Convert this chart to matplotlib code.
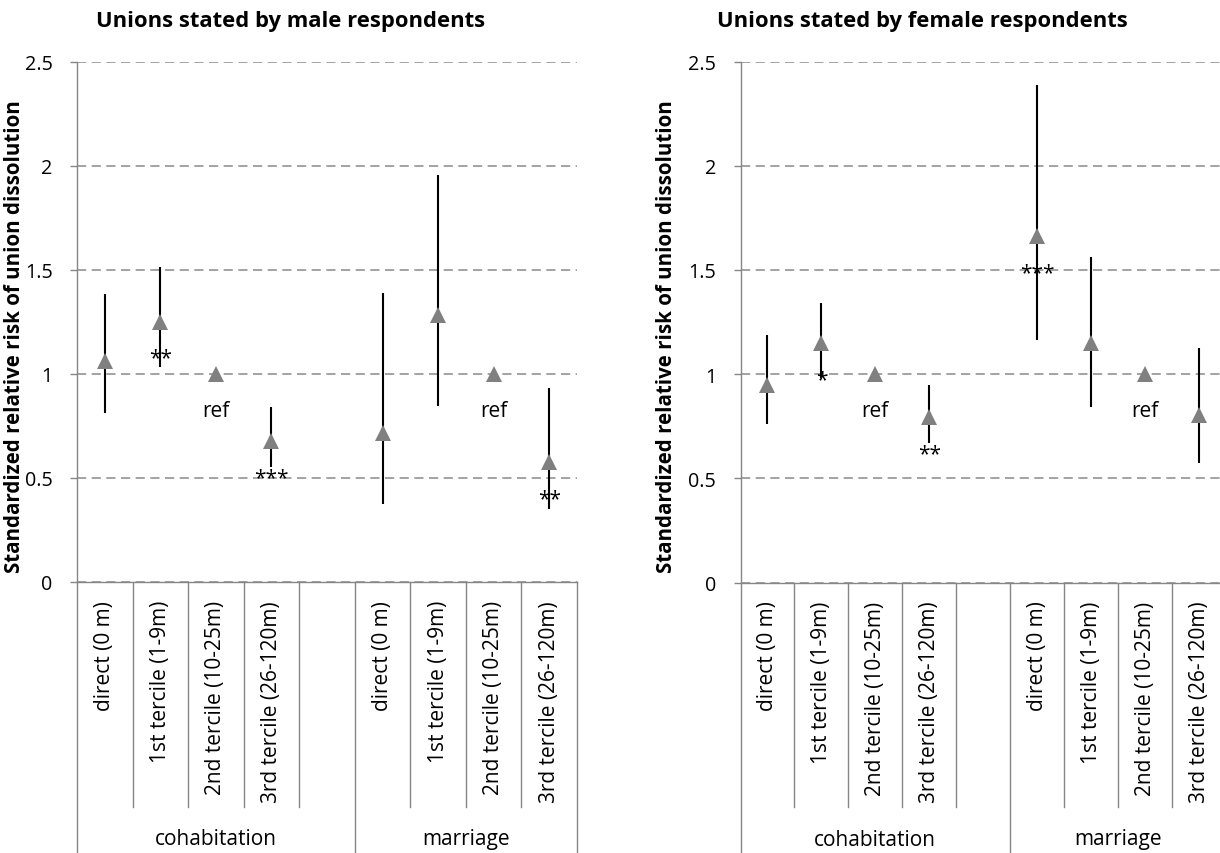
import matplotlib
matplotlib.use("Agg")
import matplotlib.pyplot as plt
from matplotlib.lines import Line2D
import numpy as np

# ---------------- data ----------------
categories = ["direct (0 m)", "1st tercile (1-9m)", "2nd tercile (10-25m)", "3rd tercile (26-120m)"]
groups = ["cohabitation", "marriage"]
titles = ["Unions stated by male respondents", "Unions stated by female respondents"]
ylabel_text = "Standardized relative risk of union dissolution"
yticks = [0, 0.5, 1, 1.5, 2, 2.5]
ytick_labels = ["0", "0.5", "1", "1.5", "2", "2.5"]

male_cohab_est = [1.063, 1.251, 1.0, 0.676]
male_cohab_lo = [0.81, 1.034, np.nan, 0.55]
male_cohab_hi = [1.385, 1.513, np.nan, 0.84]
male_cohab_sig = ["", "**", "ref", "***"]

male_marr_est = [0.718, 1.281, 1.0, 0.575]
male_marr_lo = [0.373, 0.844, np.nan, 0.353]
male_marr_hi = [1.387, 1.954, np.nan, 0.931]
male_marr_sig = ["", "", "ref", "**"]

female_cohab_est = [0.95, 1.147, 1.0, 0.794]
female_cohab_lo = [0.76, 0.983, np.nan, 0.67]
female_cohab_hi = [1.189, 1.34, np.nan, 0.948]
female_cohab_sig = ["", "*", "ref", "**"]

female_marr_est = [1.664, 1.147, 1.0, 0.802]
female_marr_lo = [1.163, 0.844, np.nan, 0.575]
female_marr_hi = [2.386, 1.562, np.nan, 1.126]
female_marr_sig = ["***", "", "ref", ""]

panels = [
    [(male_cohab_est, male_cohab_lo, male_cohab_hi, male_cohab_sig),
     (male_marr_est, male_marr_lo, male_marr_hi, male_marr_sig)],
    [(female_cohab_est, female_cohab_lo, female_cohab_hi, female_cohab_sig),
     (female_marr_est, female_marr_lo, female_marr_hi, female_marr_sig)],
]

# ---------------- style ----------------
plt.rcParams['font.family'] = ['Open Sans', 'DejaVu Sans']
W, H = 1220, 854
DPI = 100
AXIS_GRAY = '#868686'
GRID_GRAY = '#8a8a8a'
MARKER_GRAY = '#808080'
FS = 15
px2pt = 72.0 / DPI

fig = plt.figure(figsize=(W / DPI, H / DPI), dpi=DPI)

# axes boxes in pixels: (left, right, top, bottom)
boxes = [(77, 577, 62.5, 583), (740.5, 1226, 62.5, 583.5)]
title_x = [291, 922]
ylabel_x = [15, 667]

n = len(categories)
for p, (data, box) in enumerate(zip(panels, boxes)):
    l, r, t, b = box
    ax = fig.add_axes([l / W, 1 - b / H, (r - l) / W, (b - t) / H])
    ax_h = b - t

    positions, labels = [], []
    for g, (est, lo, hi, sig) in enumerate(data):
        xs = [g * (n + 1) + i for i in range(n)]
        positions += xs
        labels += categories
        for x, e, a, c, s in zip(xs, est, lo, hi, sig):
            if not np.isnan(a):
                ax.vlines(x, a, c, color='black', lw=1.5, zorder=3)
            if s:
                ax.annotate(s, (x, e), xytext=(0, -42 * px2pt), textcoords='offset points',
                            ha='center', va='baseline', fontsize=FS, zorder=5)
        ax.plot(xs, est, linestyle='none', marker='^', ms=11, color=MARKER_GRAY,
                markeredgewidth=0, zorder=4)

    ax.set_xlim(-0.5, 2 * n + 0.5)
    ax.set_ylim(0, 2.5)
    ax.set_yticks(yticks, ytick_labels)
    ax.set_xticks(positions, labels, rotation=90)
    ax.tick_params(axis='x', length=0, pad=18 * px2pt, labelsize=FS)
    ax.tick_params(axis='y', length=7 * px2pt, width=1, color=AXIS_GRAY,
                   pad=17.5 * px2pt, labelsize=14.2)
    ax.yaxis.grid(True, linestyle=(0, (6, 3.6)), color=GRID_GRAY, lw=1.1)
    ax.set_axisbelow(True)
    for s in ['top', 'right']:
        ax.spines[s].set_visible(False)
    for s in ['left', 'bottom']:
        ax.spines[s].set_color(AXIS_GRAY)
        ax.spines[s].set_linewidth(1.0)

    # multi-level category separators
    trans = ax.get_xaxis_transform()
    short_end = -(808 - b) / ax_h
    long_end = -(H + 5 - b) / ax_h
    group_edges = [-0.5, n + 0.5, 2 * n + 0.5]
    inner = [k + 0.5 for k in range(n)] + [n + 1 + k + 0.5 for k in range(n - 1)]
    for x in inner:
        ax.add_line(Line2D([x, x], [0, short_end], transform=trans, clip_on=False,
                           color=AXIS_GRAY, lw=1.0))
    for x in group_edges:
        ax.add_line(Line2D([x, x], [0, long_end], transform=trans, clip_on=False,
                           color=AXIS_GRAY, lw=1.0))
    label_y = -(840 - b) / ax_h
    for g, name in enumerate(groups):
        xc = (group_edges[g] + group_edges[g + 1]) / 2
        ax.text(xc, label_y, name, transform=trans, ha='center', va='center', fontsize=FS)

    fig.text(title_x[p] / W, 1 - 22 / H, titles[p], ha='center', va='center',
             fontsize=15.8, fontweight='bold')
    fig.text(ylabel_x[p] / W, 1 - 337 / H, ylabel_text, ha='center', va='center',
             rotation=90, fontsize=14.8, fontweight='bold')

fig.savefig('out.png', dpi=DPI)
